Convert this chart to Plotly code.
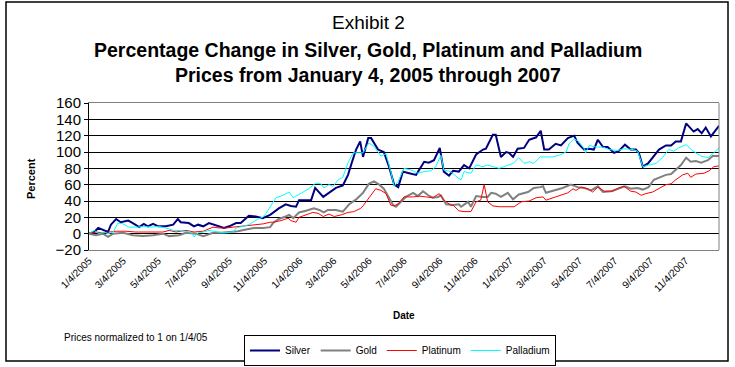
import pandas as pd
import plotly.graph_objects as go

START = "2005-01-04"

# Days since 1/4/2005 and percent change
silver_days = [0, 9, 16, 24, 33, 38, 47, 55, 68, 76, 87, 95, 102, 111, 120, 133, 146, 154, 159, 173, 182, 189, 198, 208, 220, 234, 243, 255, 263, 277, 289, 301, 314, 329, 341, 350, 359, 364, 385, 392, 406, 416, 428, 440, 449, 456, 463, 470, 475, 484, 489, 501, 511, 520, 529, 536, 544, 555, 567, 581, 589, 598, 608, 615, 624, 631, 641, 650, 659, 671, 683, 688, 700, 705, 714, 723, 728, 735, 743, 754, 763, 775, 783, 789, 797, 809, 818, 830, 841, 847, 858, 867, 875, 882, 891, 899, 910, 918, 929, 939, 948, 953, 960, 969, 977, 988, 1000, 1009, 1017, 1026, 1035, 1048, 1055, 1062, 1069, 1078, 1092]
silver_vals = [0, 2, 7, 5, 2, 11, 18, 14, 16, 13, 8, 12, 9, 12, 9, 9, 11, 18, 14, 13, 9, 11, 9, 13, 10, 7, 9, 13, 13, 22, 21, 19, 23, 31, 36, 34, 33, 41, 41, 56, 45, 50, 56, 59, 72, 88, 103, 113, 94, 117, 117, 103, 100, 82, 60, 57, 76, 74, 72, 88, 87, 90, 105, 76, 71, 77, 76, 84, 80, 97, 103, 104, 121, 121, 94, 100, 99, 94, 104, 105, 115, 118, 126, 103, 103, 110, 108, 117, 120, 111, 103, 104, 103, 115, 106, 106, 99, 101, 109, 103, 103, 99, 82, 86, 93, 103, 108, 108, 113, 113, 135, 125, 128, 123, 130, 119, 132]

gold_days = [0, 12, 24, 33, 42, 59, 76, 94, 111, 128, 139, 156, 168, 185, 198, 215, 229, 243, 258, 272, 286, 302, 314, 319, 329, 341, 347, 354, 364, 376, 390, 399, 407, 414, 428, 440, 451, 463, 471, 475, 485, 494, 503, 511, 520, 527, 532, 541, 549, 562, 570, 579, 588, 596, 605, 610, 619, 631, 641, 645, 657, 662, 671, 683, 691, 697, 705, 714, 726, 735, 745, 761, 771, 782, 787, 792, 806, 821, 835, 847, 858, 870, 882, 891, 905, 917, 929, 939, 951, 960, 970, 979, 988, 1000, 1009, 1017, 1026, 1035, 1043, 1052, 1061, 1073, 1081, 1092]
gold_vals = [0, -2, 0, -4, 0, 1, -2, -3, -2, 0, -3, -2, 1, 0, -3, 1, 1, 2, 3, 5, 7, 7, 8, 13, 18, 21, 23, 19, 26, 28, 31, 29, 26, 29, 29, 27, 36, 42, 47, 50, 61, 64, 60, 55, 44, 35, 33, 39, 45, 50, 46, 52, 47, 44, 45, 47, 36, 35, 36, 33, 39, 33, 46, 45, 45, 50, 49, 45, 50, 42, 48, 51, 56, 57, 58, 50, 53, 56, 60, 57, 56, 53, 58, 51, 52, 55, 58, 55, 56, 54, 57, 66, 69, 72, 73, 78, 84, 93, 88, 89, 87, 90, 95, 95]

platinum_days = [0, 12, 24, 35, 47, 64, 81, 111, 128, 139, 151, 158, 168, 182, 198, 215, 225, 237, 251, 267, 284, 302, 314, 319, 333, 345, 350, 359, 364, 376, 388, 397, 406, 416, 425, 437, 449, 459, 471, 475, 485, 497, 506, 515, 523, 529, 537, 546, 562, 572, 584, 596, 607, 615, 627, 631, 641, 650, 662, 671, 679, 685, 691, 700, 711, 726, 737, 749, 763, 775, 787, 792, 809, 830, 839, 844, 853, 865, 873, 882, 893, 908, 918, 927, 939, 948, 957, 965, 977, 988, 1000, 1009, 1017, 1029, 1038, 1043, 1052, 1066, 1075, 1083, 1092]
platinum_vals = [0, 2, 1, 2, 3, 3, 2, 2, 2, 4, 2, 3, 4, 2, 3, 8, 7, 7, 8, 9, 11, 12, 14, 14, 16, 19, 16, 14, 20, 23, 26, 25, 21, 24, 21, 23, 26, 27, 31, 34, 44, 55, 53, 49, 35, 34, 37, 45, 45, 46, 45, 44, 49, 41, 35, 35, 28, 27, 27, 39, 41, 60, 39, 34, 33, 33, 33, 39, 40, 44, 45, 41, 45, 50, 55, 53, 57, 55, 51, 57, 52, 52, 56, 58, 52, 51, 47, 49, 51, 55, 60, 61, 66, 72, 74, 69, 73, 74, 77, 82, 83]

palladium_days = [0, 9, 17, 26, 33, 42, 50, 59, 69, 85, 95, 107, 120, 133, 146, 156, 165, 177, 182, 189, 199, 208, 224, 234, 250, 255, 267, 277, 293, 301, 307, 315, 324, 336, 347, 354, 362, 373, 381, 393, 402, 407, 416, 423, 432, 440, 449, 458, 475, 485, 494, 506, 515, 523, 529, 536, 546, 558, 570, 581, 593, 601, 610, 615, 627, 640, 645, 650, 662, 671, 683, 691, 700, 711, 723, 735, 745, 754, 763, 771, 782, 792, 804, 815, 827, 832, 841, 849, 858, 861, 867, 879, 891, 901, 917, 927, 943, 951, 960, 970, 983, 995, 1005, 1014, 1022, 1035, 1047, 1061, 1073, 1083, 1092]
palladium_vals = [0, 4, 0, 2, 0, 2, 13, 12, 8, 8, 9, 8, 9, 7, 4, 4, 3, 2, -4, 1, 2, 4, 2, 1, 2, 7, 9, 11, 18, 20, 25, 34, 44, 47, 51, 44, 47, 51, 55, 62, 61, 56, 60, 58, 66, 69, 87, 99, 99, 111, 107, 95, 98, 76, 58, 64, 80, 78, 74, 76, 77, 82, 96, 78, 76, 68, 66, 76, 74, 84, 82, 84, 82, 80, 83, 86, 93, 86, 88, 86, 94, 94, 94, 96, 100, 110, 116, 113, 104, 99, 108, 106, 106, 103, 102, 104, 103, 101, 82, 84, 86, 94, 103, 101, 105, 109, 101, 95, 93, 99, 105]

tick_labels = ["1/4/2005", "3/4/2005", "5/4/2005", "7/4/2005", "9/4/2005", "11/4/2005",
               "1/4/2006", "3/4/2006", "5/4/2006", "7/4/2006", "9/4/2006", "11/4/2006",
               "1/4/2007", "3/4/2007", "5/4/2007", "7/4/2007", "9/4/2007", "11/4/2007"]
y_ticks = [-20, 0, 20, 40, 60, 80, 100, 120, 140, 160]

start = pd.Timestamp(START)
def to_dates(days):
    return start + pd.to_timedelta(days, unit="D")

tickvals = pd.to_datetime(tick_labels, format="%m/%d/%Y")
x_range = [start, start + pd.Timedelta(days=1092)]

FONT = "Arial, Liberation Sans, sans-serif"

series = [
    ("Silver", silver_days, silver_vals, "#000080", 2),
    ("Gold", gold_days, gold_vals, "#808080", 2),
    ("Platinum", platinum_days, platinum_vals, "#FF0000", 1),
    ("Palladium", palladium_days, palladium_vals, "#00FFFF", 1),
]

fig = go.Figure()
for name, d, v, c, w in series:
    fig.add_trace(go.Scatter(x=to_dates(d), y=v, mode="lines", name=name,
                             line=dict(color=c, width=w)))

fig.update_layout(
    width=735, height=367,
    margin=dict(l=89, r=16, t=103, b=117, autoexpand=False),
    paper_bgcolor="white", plot_bgcolor="white",
    font=dict(family=FONT, color="black"),
    showlegend=True,
    legend=dict(orientation="h", x=(244 - 89) / 630, y=(250 - 335) / 147,
                xanchor="left", yanchor="top",
                bordercolor="black", borderwidth=1, font=dict(size=10, family=FONT),
                itemwidth=30, tracegroupgap=0, bgcolor="white"),
    xaxis=dict(type="date", range=x_range, tickvals=tickvals, ticktext=tick_labels,
               tickangle=-45, tickfont=dict(size=10, family=FONT), ticks="",
               showgrid=False, showline=True, linecolor="#808080", linewidth=1,
               mirror=True, zeroline=False, automargin=False),
    xaxis2=dict(type="date", range=x_range, tickvals=tickvals, overlaying="x",
                anchor="free", position=20 / 180, ticks="outside", ticklen=4,
                tickcolor="black", showticklabels=False, showgrid=False,
                showline=False, zeroline=False, automargin=False),
    yaxis=dict(range=[-20, 160], tickvals=y_ticks, tickfont=dict(size=15, family=FONT),
               ticks="outside", ticklen=4, tickcolor="black",
               showgrid=True, gridcolor="black", gridwidth=1,
               zeroline=True, zerolinecolor="black", zerolinewidth=1,
               showline=True, linecolor="black", linewidth=1, automargin=False),
)

fig.add_shape(type="line", xref="paper", yref="paper", x0=1, x1=1, y0=0, y1=1,
              line=dict(color="#808080", width=1))
fig.add_shape(type="rect", xref="paper", yref="paper",
              x0=(6 - 89) / 630, x1=(728 - 89) / 630,
              y0=(250 - 361) / 147, y1=(250 - 2) / 147,
              line=dict(color="black", width=1.5))

def ann(text, px, py, size, bold=False, angle=0, xanchor="center"):
    fig.add_annotation(text=f"<b>{text}</b>" if bold else text,
                       xref="paper", yref="paper",
                       x=(px - 89) / 630, y=(250 - py) / 147,
                       showarrow=False, xanchor=xanchor, yanchor="middle",
                       textangle=angle, font=dict(size=size, family=FONT, color="black"))

ann("Exhibit 2", 368, 22, 19)
ann("Percentage Change in Silver, Gold, Platinum and Palladium", 368, 50, 19.5, bold=True)
ann("Prices from January 4, 2005 through 2007", 368, 75, 19.5, bold=True)
ann("Percent", 31, 178, 11, bold=True, angle=-90)
ann("Date", 404, 315, 10, bold=True)
ann("Prices normalized to 1 on 1/4/05", 62, 337, 10, xanchor="left")

fig.write_html(
    "out.html",
    config={"displayModeBar": False},
    post_script="document.body.style.margin='0';"
                "document.body.style.overflow='hidden';"
                "document.documentElement.style.overflow='hidden';",
)
